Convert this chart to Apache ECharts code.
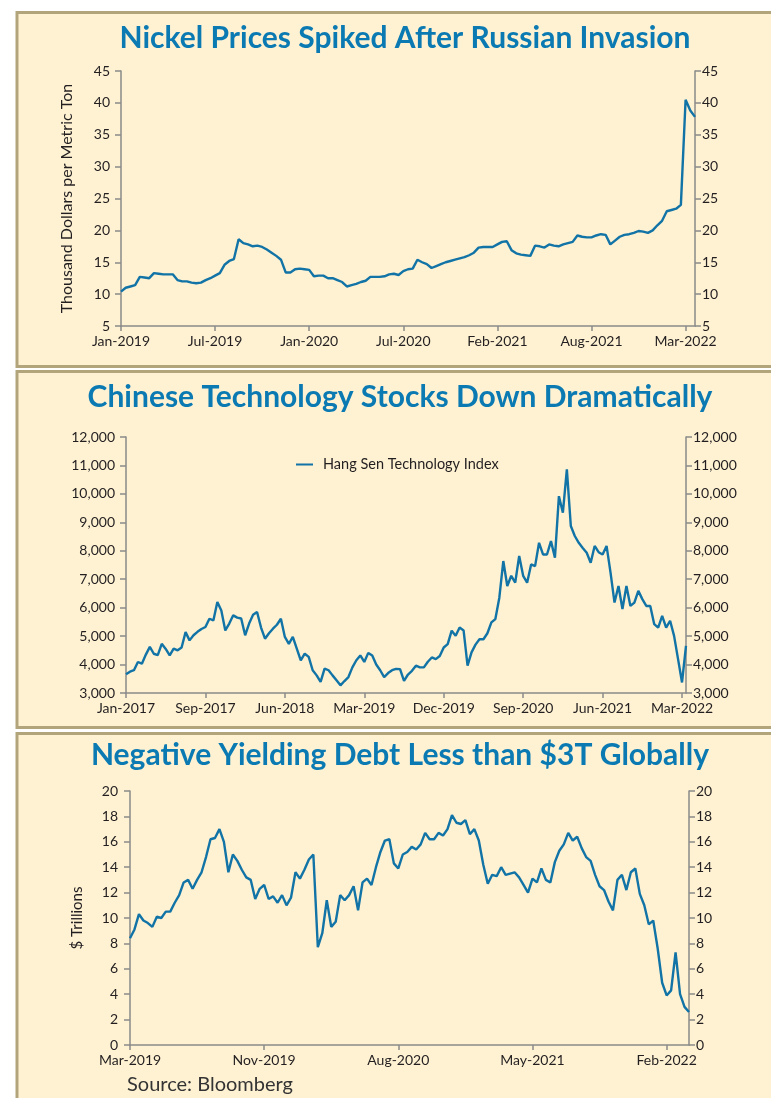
<!DOCTYPE html>
<html>
<head>
<meta charset="utf-8">
<script src="https://cdn.jsdelivr.net/npm/echarts@6/dist/echarts.min.js"></script>
<style>
html,body{margin:0;padding:0;background:#fff;}
#main{width:771px;height:1098px;}
</style>
</head>
<body>
<div id="main"></div>
<script>
// nickel, thousand $ per metric ton (20 points per label step)
var nickelLabels = ['Jan-2019','Jul-2019','Jan-2020','Jul-2020','Feb-2021','Aug-2021','Mar-2022'];
var nickelPrice = [10.4,11.0,11.2,11.4,12.7,12.6,12.5,13.3,13.2,13.1,13.1,13.1,12.2,12.0,12.0,11.8,11.7,11.8,12.2,12.5,
  12.9,13.3,14.6,15.2,15.5,18.6,18.0,17.8,17.5,17.6,17.4,17.0,16.5,16.0,15.4,13.4,13.4,13.9,14.0,13.9,
  13.8,12.8,12.9,12.9,12.5,12.5,12.2,11.9,11.2,11.4,11.6,11.9,12.1,12.7,12.7,12.7,12.8,13.1,13.2,13.0,
  13.6,13.9,14.0,15.4,15.0,14.7,14.1,14.4,14.7,15.0,15.2,15.4,15.6,15.8,16.1,16.5,17.3,17.4,17.4,17.4,
  17.8,18.2,18.3,16.9,16.4,16.2,16.1,16.0,17.6,17.5,17.3,17.8,17.6,17.5,17.8,18.0,18.2,19.2,19.0,18.9,
  18.9,19.2,19.4,19.3,17.8,18.4,19.0,19.3,19.4,19.6,19.9,19.8,19.6,20.0,20.8,21.5,23.0,23.2,23.4,24.0,
  40.5,38.8,37.8];

// Hang Seng Tech index (20 points per label step)
var hstechLabels = ['Jan-2017','Sep-2017','Jun-2018','Mar-2019','Dec-2019','Sep-2020','Jun-2021','Mar-2022'];
var hstechIndex = [3656,3750,3800,4090,4030,4350,4620,4380,4330,4730,4550,4320,4560,4500,4600,5140,4850,5030,5150,5250,
  5320,5610,5550,6200,5900,5200,5440,5730,5650,5620,5030,5440,5750,5850,5300,4910,5100,5260,5400,5610,
  4970,4730,4970,4560,4150,4380,4270,3800,3620,3390,3860,3800,3620,3450,3270,3420,3560,3900,4150,4320,
  4090,4410,4320,4000,3800,3560,3700,3800,3850,3840,3430,3650,3780,3960,3900,3900,4100,4250,4190,4300,
  4600,4720,5190,5010,5300,5200,3960,4430,4700,4890,4890,5100,5480,5600,6350,7640,6760,7120,6880,7820,
  7120,6880,7520,7460,8280,7870,7870,8340,7760,9920,9340,10860,8870,8520,8280,8100,7930,7580,8170,7950,
  7870,8170,7230,6180,6760,5950,6760,6060,6180,6590,6300,6060,6060,5420,5300,5710,5300,5540,5010,4190,
  3370,4660];

// negative yielding debt, $ trillions (30 points per label step)
var negDebtLabels = ['Mar-2019','Nov-2019','Aug-2020','May-2021','Feb-2022'];
var negDebt = [8.4,9.1,10.3,9.8,9.6,9.3,10.1,10.0,10.5,10.5,11.2,11.8,12.8,13.0,12.3,13.0,13.6,14.8,16.2,16.3,
  17.0,16.0,13.6,15.0,14.5,13.8,13.2,13.0,11.5,12.3,12.6,11.5,11.7,11.2,11.8,11.0,11.6,13.6,13.1,13.8,
  14.6,15.0,7.7,8.8,11.4,9.3,9.7,11.8,11.4,11.8,12.5,10.6,12.8,13.1,12.6,14.0,15.2,16.1,16.2,14.3,
  13.9,15.0,15.2,15.6,15.4,15.8,16.7,16.2,16.2,16.7,16.5,17.0,18.1,17.5,17.4,17.7,16.6,17.0,16.1,14.2,
  12.7,13.4,13.3,14.0,13.4,13.5,13.6,13.2,12.6,12.0,13.1,12.8,13.9,13.0,12.8,14.4,15.3,15.8,16.7,16.1,
  16.4,15.5,14.8,14.5,13.4,12.5,12.2,11.3,10.6,13.0,13.4,12.2,13.6,13.9,11.9,11.0,9.5,9.8,7.6,4.9,
  3.9,4.3,7.3,4.0,3.0,2.6];

var FONT = 'Lato';
var TXT = '#231f20';
var AXIS = '#8a8a8a';
var BLUE = '#0b7ab2';
var LINE = '#1173a6';

var panels = [
  {data: nickelPrice, labels: nickelLabels, step: 20, min: 5, max: 45, interval: 5,
   grid: {left: 121, right: 76, top: 71, height: 255}, name: 'Thousand Dollars per Metric Ton', nameGap: 46, nameSize: 16,
   lm: 11, rm: 7, fmt: null, series: 'Nickel'},
  {data: hstechIndex, labels: hstechLabels, step: 20, min: 3000, max: 12000, interval: 1000,
   grid: {left: 126, right: 85, top: 437, height: 256}, name: '', nameGap: 0, nameSize: 15,
   lm: 11, rm: 7, fmt: function (v) { return v.toLocaleString('en-US'); }, series: 'Hang Sen Technology Index'},
  {data: negDebt, labels: negDebtLabels, step: 30, min: 0, max: 20, interval: 2,
   grid: {left: 130, right: 82, top: 791, height: 254}, name: '$ Trillions', nameGap: 45, nameSize: 15,
   lm: 12, rm: 7, fmt: null, series: 'Negative Yielding Debt'}
];

var grids = [], xAxes = [], yAxes = [], series = [];
panels.forEach(function (p, i) {
  grids.push(p.grid);
  xAxes.push({
    type: 'category', gridIndex: i, boundaryGap: false,
    data: p.data.map(function (_, k) { return String(k); }),
    axisLine: {lineStyle: {color: AXIS, width: 1.5}},
    axisTick: {interval: p.step - 1, length: 5, lineStyle: {color: AXIS, width: 1.5}},
    axisLabel: {
      interval: p.step - 1, margin: 8, color: TXT, fontFamily: FONT, fontSize: 14,
      formatter: function (v) { return p.labels[(+v) / p.step] || ''; }
    },
    splitLine: {show: false}
  });
  ['left', 'right'].forEach(function (side) {
    yAxes.push({
      type: 'value', gridIndex: i, position: side,
      min: p.min, max: p.max, interval: p.interval,
      name: side === 'left' ? p.name : '', nameLocation: 'middle', nameGap: p.nameGap,
      nameTextStyle: {color: TXT, fontFamily: FONT, fontSize: p.nameSize},
      axisLine: {show: true, lineStyle: {color: AXIS, width: 1.5}},
      axisTick: {show: true, length: 6, lineStyle: {color: AXIS, width: 1.5}},
      axisLabel: {
        margin: side === 'left' ? p.lm : p.rm, color: TXT, fontFamily: FONT, fontSize: 14,
        padding: [0, 0, 4, 0], formatter: p.fmt || '{value}'
      },
      splitLine: {show: false}
    });
  });
  series.push({
    type: 'line', name: p.series, xAxisIndex: i, yAxisIndex: i * 2,
    data: p.data, symbol: 'none', lineStyle: {color: LINE, width: 2.4}, itemStyle: {color: LINE}
  });
});

function box(y, h) {
  return {type: 'rect', silent: true, z: -10,
    shape: {x: 17, y: y, width: 820, height: h},
    style: {fill: '#fef2d3', stroke: '#b3a57b', lineWidth: 3}};
}
function title(text, x, y) {
  return {type: 'text', silent: true,
    style: {text: text, x: x, y: y, align: 'center', verticalAlign: 'middle',
      fill: BLUE, font: 'bold 30px ' + FONT}};
}

var chart = echarts.init(document.getElementById('main'), null, {renderer: 'canvas'});
chart.setOption({
  animation: false,
  backgroundColor: '#ffffff',
  grid: grids,
  xAxis: xAxes,
  yAxis: yAxes,
  series: series,
  legend: {
    data: ['Hang Sen Technology Index'], left: 291, top: 452,
    icon: 'rect', itemWidth: 17, itemHeight: 2,
    textStyle: {color: TXT, fontFamily: FONT, fontSize: 14.5, padding: [0, 0, 0, 5]}
  },
  graphic: [
    box(12.5, 354), box(371.5, 356), box(733.5, 400),
    title('Nickel Prices Spiked After Russian Invasion', 405, 38),
    title('Chinese Technology Stocks Down Dramatically', 400, 397),
    title('Negative Yielding Debt Less than $3T Globally', 400, 755),
    {type: 'text', silent: true,
     style: {text: 'Source: Bloomberg', x: 127, y: 1085, verticalAlign: 'middle',
       fill: '#333', font: '20px ' + FONT}}
  ]
});
</script>
</body>
</html>
